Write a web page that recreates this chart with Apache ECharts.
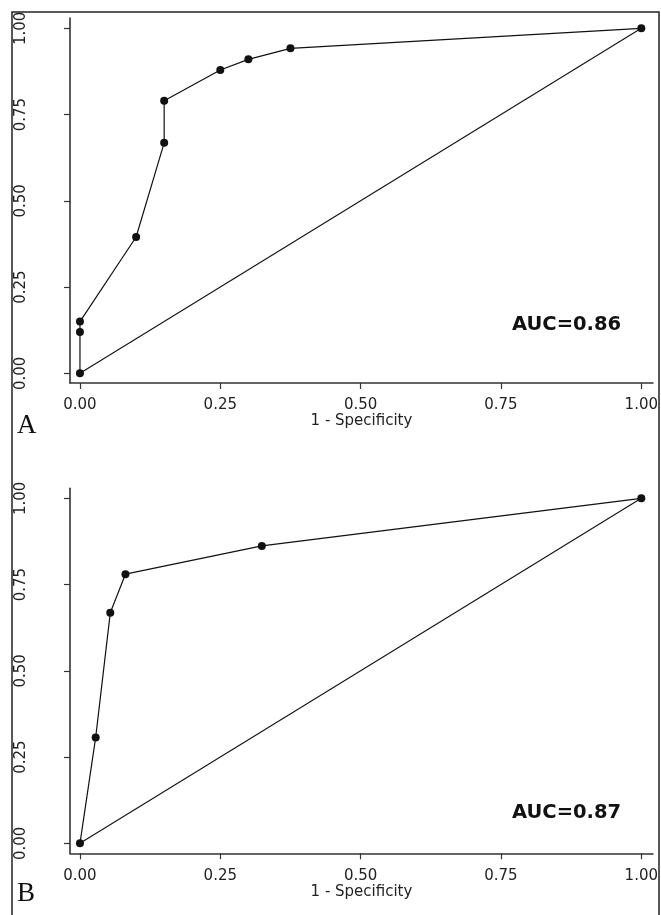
<!DOCTYPE html>
<html>
<head>
<meta charset="utf-8">
<script src="https://cdn.jsdelivr.net/npm/echarts@6/dist/echarts.min.js"></script>
<style>
  html, body { margin: 0; padding: 0; background: #fff; }
  #chart { width: 661px; height: 915px; }
</style>
</head>
<body>
<div id="chart"></div>
<script>
// ---- data ----
var tickValues = [0, 0.25, 0.5, 0.75, 1];
var tickLabels = ['0.00', '0.25', '0.50', '0.75', '1.00'];
var xTitle = '1 - Specificity';

var rocA_x = [0, 0, 0, 0.10, 0.15, 0.15, 0.25, 0.30, 0.375, 1];
var rocA_y = [0, 0.12, 0.15, 0.395, 0.668, 0.79, 0.879, 0.91, 0.942, 1];
var rocB_x = [0, 0.028, 0.054, 0.081, 0.324, 1];
var rocB_y = [0, 0.307, 0.668, 0.78, 0.862, 1];
var diagX = [0, 1];
var diagY = [0, 1];

var panelLabels = ['A', 'B'];
var aucLabels = ['AUC=0.86', 'AUC=0.87'];

// ---- layout ----
var X0 = 80, X1 = 643.3;            // pixel of x=0 and x=1
var AX_LEFT = 70, AX_RIGHT = 655;   // axis line extents
var pxPerX = X1 - X0;
var pxPerY = 345;
var panels = [
  { y0: 373.3, axisY: 383, top: 18 },
  { y0: 843.3, axisY: 853.3, top: 488.3 }
];

function zip(a, b) { return a.map(function (v, i) { return [v, b[i]]; }); }

var font = 'DejaVu Sans';
var grids = [], xAxes = [], yAxes = [], series = [], graphics = [];

panels.forEach(function (p, i) {
  var h = p.axisY - p.top;
  grids.push({ left: AX_LEFT, width: AX_RIGHT - AX_LEFT, top: p.top, height: h, containLabel: false });
  var xmin = -(X0 - AX_LEFT) / pxPerX;
  var xmax = (AX_RIGHT - X0) / pxPerX;
  var ymin = -(p.axisY - p.y0) / pxPerY;
  var ymax = (p.y0 - p.top) / pxPerY;
  xAxes.push({
    type: 'value', gridIndex: i, min: xmin, max: xmax,
    name: xTitle, nameLocation: 'middle', nameGap: 28,
    nameTextStyle: { fontFamily: font, fontSize: 15, color: '#222' },
    axisLine: { show: true, onZero: false, lineStyle: { color: '#333', width: 1.6 } },
    axisTick: { show: true, length: 6, customValues: tickValues, lineStyle: { color: '#333', width: 1.2 } },
    axisLabel: {
      show: true, customValues: tickValues, margin: 15,
      fontFamily: font, fontSize: 15, color: '#222',
      formatter: function (v) { var k = tickValues.indexOf(v); return k >= 0 ? tickLabels[k] : ''; }
    },
    splitLine: { show: false }
  });
  yAxes.push({
    type: 'value', gridIndex: i, min: ymin, max: ymax,
    axisLine: { show: true, onZero: false, lineStyle: { color: '#333', width: 1.6 } },
    axisTick: { show: true, length: 6, customValues: tickValues, lineStyle: { color: '#333', width: 1.2 } },
    axisLabel: {
      show: true, customValues: tickValues, margin: 41, rotate: 90,
      fontFamily: font, fontSize: 15, color: '#222',
      formatter: function (v) { var k = tickValues.indexOf(v); return k >= 0 ? tickLabels[k] : ''; }
    },
    splitLine: { show: false }
  });
  series.push({
    type: 'line', xAxisIndex: i, yAxisIndex: i,
    data: zip(diagX, diagY), showSymbol: false, silent: true,
    lineStyle: { color: '#111', width: 1.1 }, z: 2
  });
  series.push({
    type: 'line', xAxisIndex: i, yAxisIndex: i,
    data: i === 0 ? zip(rocA_x, rocA_y) : zip(rocB_x, rocB_y),
    symbol: 'circle', symbolSize: 8, showSymbol: true,
    itemStyle: { color: '#111' },
    lineStyle: { color: '#111', width: 1.2 }, z: 3
  });
});

// annotations
graphics.push({ type: 'text', left: 512, top: 315, style: { text: aucLabels[0], font: 'bold 19.5px "DejaVu Sans"', fill: '#111' } });
graphics.push({ type: 'text', left: 512, top: 803, style: { text: aucLabels[1], font: 'bold 19.5px "DejaVu Sans"', fill: '#111' } });
graphics.push({ type: 'text', left: 17, top: 412, style: { text: panelLabels[0], font: '27px "Liberation Serif"', fill: '#111' } });
graphics.push({ type: 'text', left: 17, top: 880, style: { text: panelLabels[1], font: '27px "Liberation Serif"', fill: '#111' } });
// outer frame
graphics.push({ type: 'rect', shape: { x: 659.5, y: 0, width: 10, height: 915 }, style: { fill: '#fff' }, z: 100 });
graphics.push({ type: 'polyline', shape: { points: [[12, 916], [12, 12], [659, 12], [659, 916]] }, style: { stroke: '#222', lineWidth: 1.5, fill: null }, z: 101 });

var chart = echarts.init(document.getElementById('chart'), null, { renderer: 'canvas' });
chart.setOption({
  animation: false,
  backgroundColor: '#fff',
  grid: grids,
  xAxis: xAxes,
  yAxis: yAxes,
  series: series,
  graphic: graphics
});
</script>
</body>
</html>
